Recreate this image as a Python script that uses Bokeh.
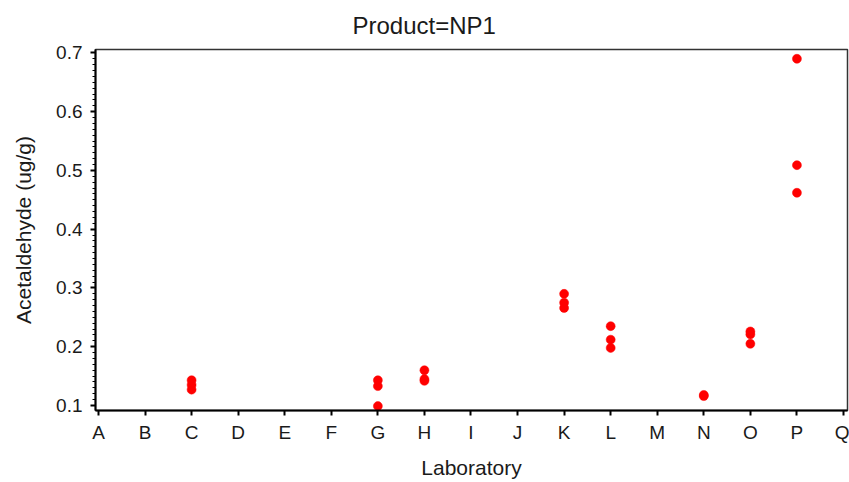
from bokeh.plotting import figure
from bokeh.models import FixedTicker, Range1d, ColumnDataSource
from bokeh.embed import file_html
from bokeh.resources import INLINE

labs = ["A", "B", "C", "D", "E", "F", "G", "H", "I", "J", "K", "L", "M", "N", "O", "P", "Q"]

pt_lab = ["C", "C", "C", "G", "G", "G", "H", "H", "H", "K", "K", "K",
          "L", "L", "L", "N", "N", "O", "O", "O", "P", "P", "P"]
pt_val = [0.143, 0.135, 0.127, 0.143, 0.133, 0.099, 0.160, 0.145, 0.142,
          0.290, 0.275, 0.266, 0.235, 0.212, 0.198, 0.118, 0.116,
          0.226, 0.221, 0.205, 0.690, 0.509, 0.462]

pos = {l: i + 1 for i, l in enumerate(labs)}
src = ColumnDataSource(dict(x=[pos[l] for l in pt_lab], y=pt_val))

FONT = "Liberation Sans"
p = figure(width=849, height=482, output_backend="svg", toolbar_location=None,
           x_range=Range1d(0.936, 17.086), y_range=Range1d(0.0915, 0.7058),
           min_border_left=95, min_border_right=2, min_border_top=49, min_border_bottom=72,
           title="Product=NP1")
p.title.align = "left"
p.title.offset = 257
p.title.vertical_align = "top"
p.title.text_font = FONT
p.title.text_font_size = "24px"
p.title.text_font_style = "normal"
p.title.text_color = "#1a1a1a"
p.title.standoff = 18

p.scatter("x", "y", source=src, size=9, marker="circle", fill_color="#ff0000", line_color="#ff0000", line_width=0.5)

p.xgrid.visible = False
p.ygrid.visible = False
p.outline_line_color = "#333333"
p.outline_line_width = 1.5

p.xaxis.ticker = FixedTicker(ticks=list(range(1, 18)))
p.xaxis.major_label_overrides = {i + 1: l for i, l in enumerate(labs)}
p.xaxis.axis_label = "Laboratory"
p.yaxis.axis_label = "Acetaldehyde (ug/g)"
p.yaxis.ticker = FixedTicker(ticks=[0.1, 0.2, 0.3, 0.4, 0.5, 0.6, 0.7],
                             minor_ticks=[round(0.1 + 0.01 * i, 2) for i in range(61)])

for ax in (p.xaxis[0], p.yaxis[0]):
    ax.axis_line_color = "#000000"
    ax.axis_line_width = 2
    ax.major_tick_line_color = "#000000"
    ax.major_tick_line_width = 2
    ax.major_tick_in = 0
    ax.major_tick_out = 5
    ax.minor_tick_line_color = "#000000"
    ax.minor_tick_in = 0
    ax.minor_tick_out = 3
    ax.major_label_text_font = FONT
    ax.major_label_text_font_size = "19px"
    ax.major_label_text_color = "#1a1a1a"
    ax.axis_label_text_font = FONT
    ax.axis_label_text_font_size = "21px"
    ax.axis_label_text_font_style = "normal"
    ax.axis_label_text_color = "#1a1a1a"
p.xaxis.minor_tick_line_color = None
p.yaxis.major_label_standoff = 8
p.xaxis.major_label_standoff = 6
p.xaxis.axis_label_standoff = 10
p.yaxis.axis_label_standoff = 18

open("out.html", "w").write(file_html(p, INLINE))
